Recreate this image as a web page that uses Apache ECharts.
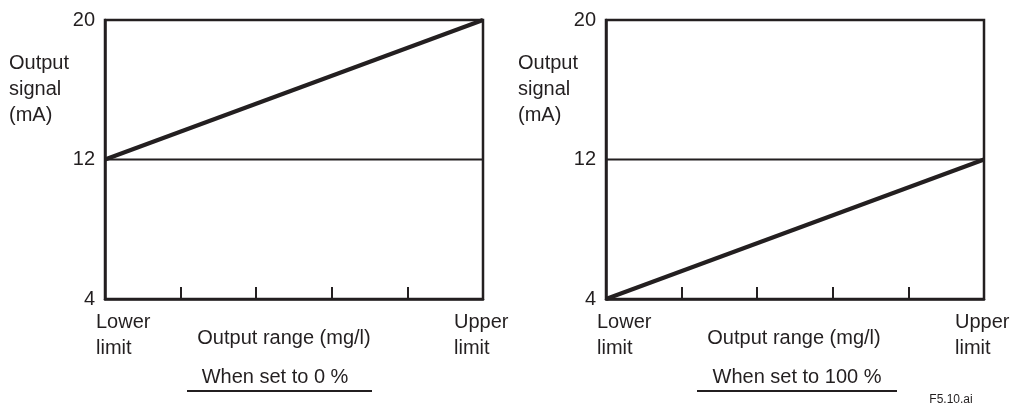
<!DOCTYPE html>
<html>
<head>
<meta charset="utf-8">
<script src="https://cdn.jsdelivr.net/npm/echarts@6/dist/echarts.min.js"></script>
<style>
html, body { margin: 0; padding: 0; background: #fff; }
#chart { width: 1019px; height: 410px; }
</style>
</head>
<body>
<div id="chart"></div>
<script>
// chart data
const xRange = [0, 5];
const yTicks = [4, 12, 20];
const zeroSetLine = [[0, 12], [5, 20]];
const fullSetLine = [[0, 4], [5, 12]];
const holdLine = [[0, 12], [5, 12]];
const xEndLabels = ['Lower\nlimit', 'Upper\nlimit'];
const yAxisName = 'Output\nsignal\n(mA)';
const xAxisName = 'Output range (mg/l)';
const captions = ['When set to 0 %', 'When set to 100 %'];
const figureId = 'F5.10.ai';

const INK = '#231f20';
const FONT = '"Liberation Sans", Arial, sans-serif';
const BOX = 2.5;

const chart = echarts.init(document.getElementById('chart'));

const grids = [
    { left: 105, top: 20, width: 378, height: 279 },
    { left: 606, top: 20, width: 378, height: 279 },
];

function xAxisFor(i) {
    return {
        gridIndex: i,
        type: 'value',
        min: xRange[0],
        max: xRange[1],
        interval: 1,
        axisLine: { show: true, lineStyle: { color: INK, width: BOX } },
        axisTick: { show: true, inside: true, length: 12, lineStyle: { color: INK, width: 2 } },
        axisLabel: { show: false },
        splitLine: { show: false },
    };
}

function yAxisFor(i) {
    return {
        gridIndex: i,
        type: 'value',
        min: yTicks[0],
        max: yTicks[yTicks.length - 1],
        interval: yTicks[1] - yTicks[0],
        axisLine: { show: true, lineStyle: { color: INK, width: BOX } },
        axisTick: { show: false },
        axisLabel: { color: INK, fontSize: 20, fontFamily: FONT, margin: 10 },
        splitLine: { show: false },
    };
}

function lineSeries(i, data, width) {
    return {
        type: 'line',
        xAxisIndex: i,
        yAxisIndex: i,
        data: data,
        symbol: 'none',
        clip: false,
        silent: true,
        lineStyle: { color: INK, width: width },
    };
}

chart.setOption({
    animation: false,
    grid: grids.map((g) => Object.assign({ show: true, borderColor: INK, borderWidth: BOX }, g)),
    xAxis: [xAxisFor(0), xAxisFor(1)],
    yAxis: [yAxisFor(0), yAxisFor(1)],
    series: [
        lineSeries(0, holdLine, 2),
        lineSeries(0, zeroSetLine, 4),
        lineSeries(1, holdLine, 2),
        lineSeries(1, fullSetLine, 4),
    ],
});

// texts placed from the axis pixel positions
const textStyle = (extra) => Object.assign({ fill: INK, font: '20px ' + FONT, lineHeight: 26 }, extra);
const graphics = [];
const nameX = [9, 518];
const xNameCenter = [284, 794];
const captionCenter = [275, 797];

for (let i = 0; i < 2; i++) {
    const lo = chart.convertToPixel({ gridIndex: i }, [xRange[0], yTicks[0]]);
    const hi = chart.convertToPixel({ gridIndex: i }, [xRange[1], yTicks[0]]);
    const top = chart.convertToPixel({ gridIndex: i }, [xRange[0], yTicks[2]]);
    const mid = (top[1] + lo[1]) / 2;

    graphics.push({
        type: 'text', x: nameX[i], y: mid - 70,
        style: textStyle({ text: yAxisName, textAlign: 'left', textVerticalAlign: 'middle' }),
    });
    graphics.push({
        type: 'text', x: lo[0] - 9, y: lo[1] + 10,
        style: textStyle({ text: xEndLabels[0], textAlign: 'left', textVerticalAlign: 'top' }),
    });
    graphics.push({
        type: 'text', x: hi[0] - 29, y: hi[1] + 10,
        style: textStyle({ text: xEndLabels[1], textAlign: 'left', textVerticalAlign: 'top' }),
    });
    graphics.push({
        type: 'text', x: xNameCenter[i], y: lo[1] + 39,
        style: textStyle({ text: xAxisName, textAlign: 'center', textVerticalAlign: 'middle' }),
    });
    graphics.push({
        type: 'text', x: captionCenter[i], y: lo[1] + 78,
        style: textStyle({ text: captions[i], textAlign: 'center', textVerticalAlign: 'middle' }),
    });
}

graphics.push({ type: 'line', shape: { x1: 187, y1: 391, x2: 372, y2: 391 }, style: { stroke: INK, lineWidth: 2 } });
graphics.push({ type: 'line', shape: { x1: 697, y1: 391, x2: 897, y2: 391 }, style: { stroke: INK, lineWidth: 2 } });
graphics.push({
    type: 'text', x: 951, y: 400,
    style: { text: figureId, fill: INK, font: '12px ' + FONT, textAlign: 'center', textVerticalAlign: 'middle' },
});

chart.setOption({ graphic: graphics });
</script>
</body>
</html>
